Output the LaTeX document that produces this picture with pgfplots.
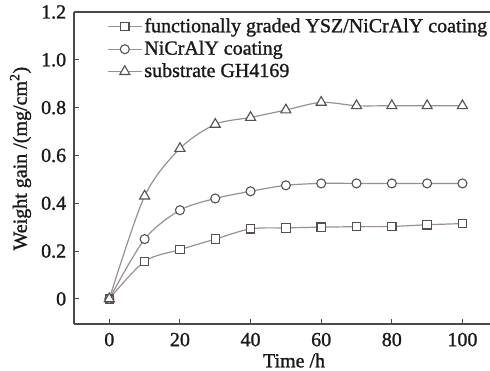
\documentclass[border=0pt]{standalone}
\usepackage{fontspec}
\setmainfont[FakeBold=1.2]{Liberation Serif}
\usepackage{pgfplots}
\pgfplotsset{compat=1.18}
\definecolor{linegray}{HTML}{9A9090}
\definecolor{markgray}{HTML}{555050}
\definecolor{axisgray}{HTML}{504848}
\begin{document}
\fontsize{20}{24}\selectfont
\begin{tikzpicture}
\begin{axis}[
  scale only axis, width=416pt, height=312pt,
  xmin=-10, xmax=107.8, ymin=-0.105, ymax=1.2,
  axis x line*=bottom, axis y line*=left,
  axis line style={-, axisgray, line width=1.3pt},
  xtick={0,20,40,60,80,100},
  xticklabels={0,20,40,60,80,100},
  ytick={0,0.2,0.4,0.6,0.8,1.0,1.2},
  yticklabels={0,0.2,0.4,0.6,0.8,1.0,1.2},
  tick align=inside, major tick length=5pt,
  tick style={axisgray, line width=1pt},
  ticklabel style={font=\fontsize{20}{24}\selectfont, text=black!90},
  xticklabel style={yshift=-2pt},
  yticklabel style={xshift=-1pt},
  xlabel={Time /h}, ylabel={Weight gain /(mg/cm\textsuperscript{2})},
  every axis x label/.style={at={(axis description cs:0.529,-0.117)}, anchor=center, font=\fontsize{20}{24}\selectfont, text=black!90},
  every axis y label/.style={at={(axis description cs:-0.1286,0.53)}, rotate=90, anchor=center, font=\fontsize{20}{24}\selectfont, text=black!90},
  legend image code/.code={\draw[mark repeat=2,mark phase=2,#1] plot coordinates {(0pt,0pt) (17pt,0pt) (34pt,0pt)};},
  legend style={draw=none, fill=none, at={(axis description cs:0,1)}, anchor=north west, xshift=30pt, yshift=-2pt, row sep=1.5pt, nodes={inner sep=2pt}, font=\fontsize{20}{24}\selectfont, text=black!90},
  legend cell align=left,
]
\addplot[color=linegray, line width=1.2pt, smooth, tension=0.5, mark=square*, mark size=4.2pt, mark options={draw=markgray, fill=white, line width=1.1pt, solid}]
  coordinates {(0,0) (10,0.157) (20,0.206) (30,0.25) (40,0.293) (50,0.297) (60,0.30) (70,0.302) (80,0.303) (90,0.31) (100,0.315)};
\addlegendentry{functionally graded YSZ/NiCrAlY coating}
\addplot[color=linegray, line width=1.2pt, smooth, tension=0.5, mark=*, mark size=4.5pt, mark options={draw=markgray, fill=white, line width=1.1pt, solid}]
  coordinates {(0,0) (10,0.25) (20,0.371) (30,0.42) (40,0.45) (50,0.475) (60,0.483) (70,0.483) (80,0.483) (90,0.483) (100,0.483)};
\addlegendentry{NiCrAlY coating}
\addplot[color=linegray, line width=1.2pt, smooth, tension=0.5, mark=triangle*, mark size=5.8pt, mark options={draw=markgray, fill=white, line width=1.1pt, solid}]
  coordinates {(0,0) (10,0.43) (20,0.629) (30,0.73) (40,0.759) (50,0.79) (60,0.822) (70,0.808) (80,0.808) (90,0.808) (100,0.808)};
\addlegendentry{substrate GH4169}
\draw[axisgray, line width=1.3pt] (rel axis cs:0,1) -- (rel axis cs:1,1);
\end{axis}
\pgfresetboundingbox
\path ([xshift=-74pt,yshift=-47pt]current axis.south west) rectangle ([yshift=12pt]current axis.north east);
\end{tikzpicture}
\end{document}
